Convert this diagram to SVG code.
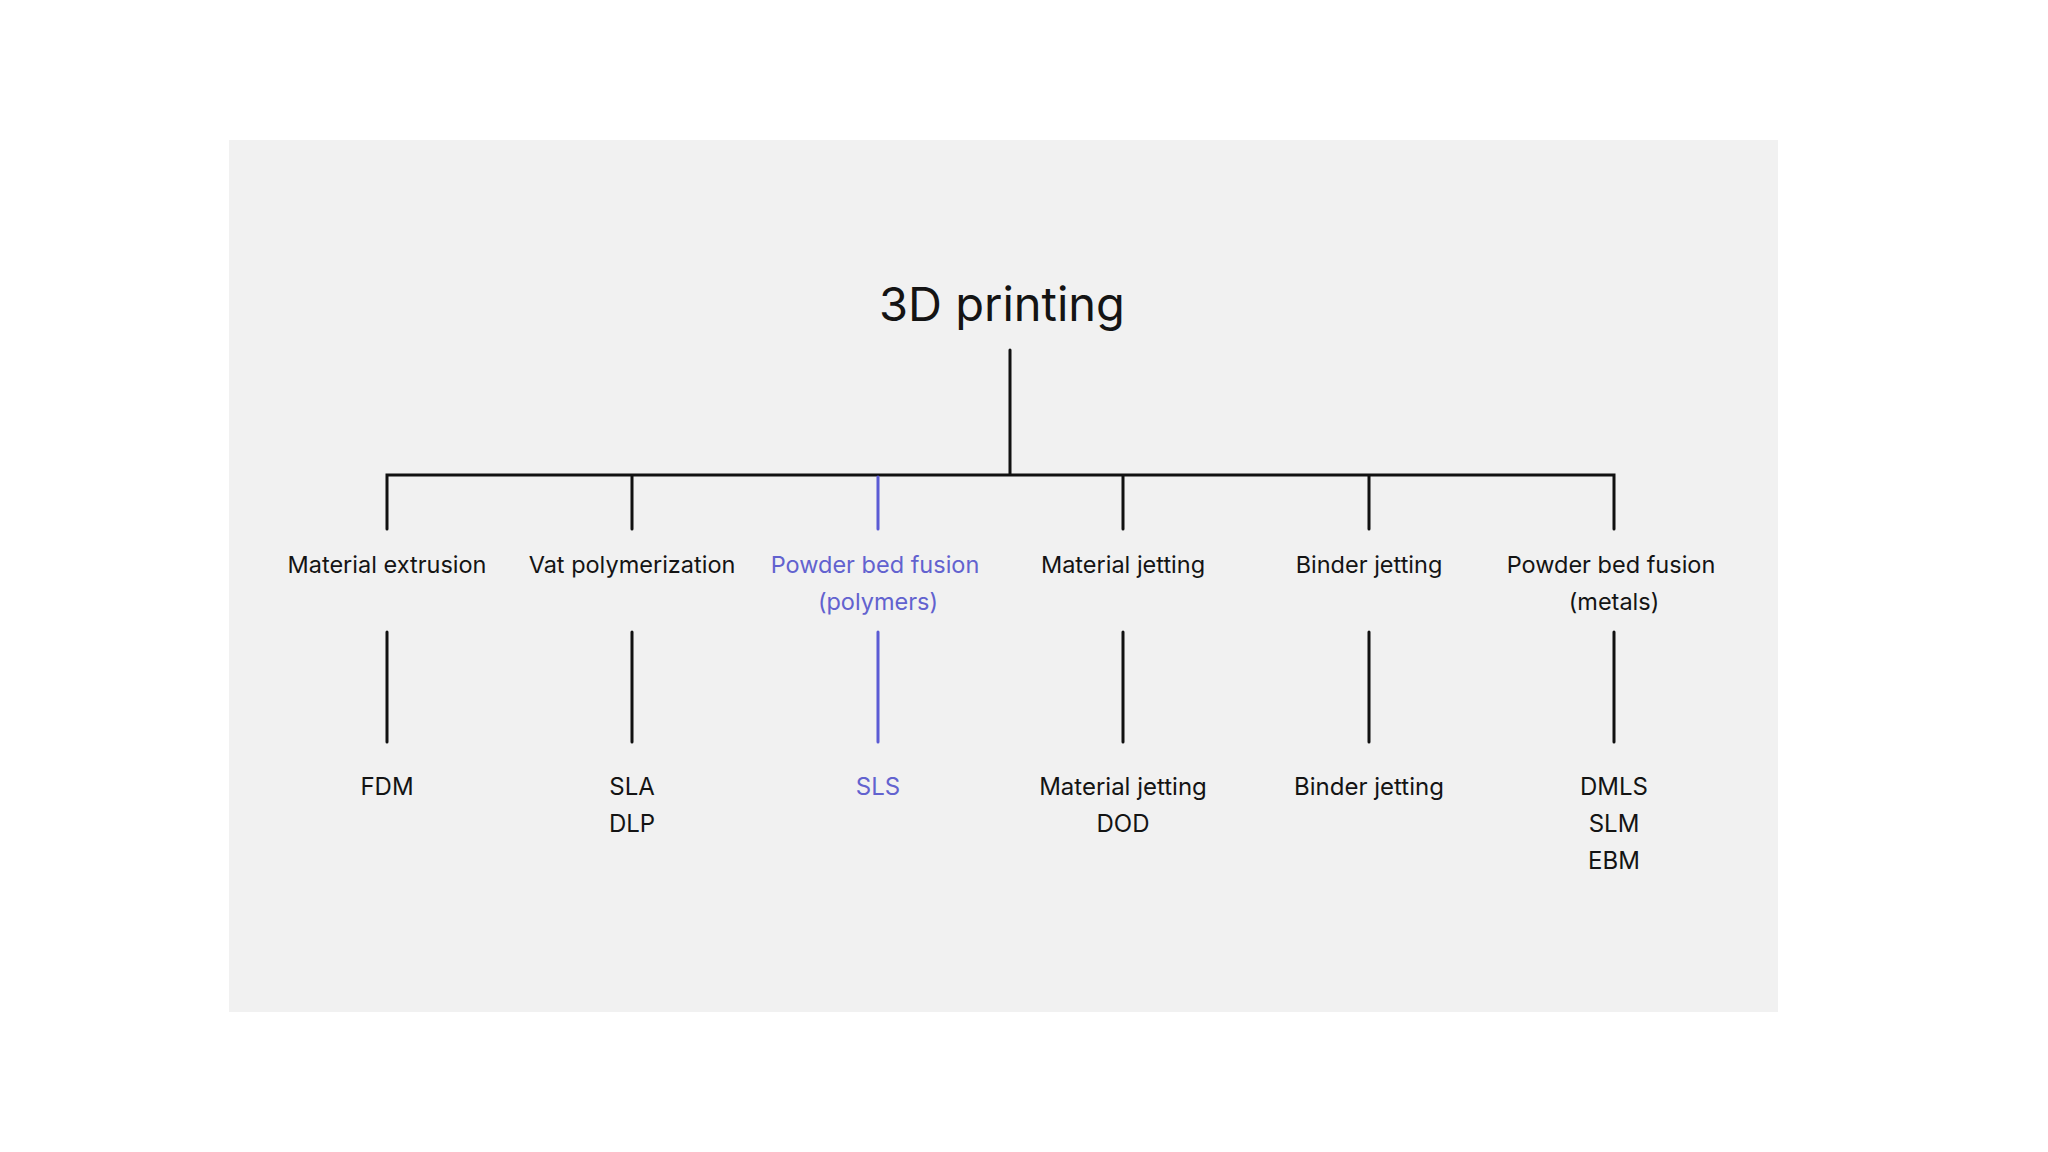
<svg xmlns="http://www.w3.org/2000/svg" width="2048" height="1152" viewBox="0 0 2048 1152">
<style>
.t{font-family:Inter,"Noto Sans","Liberation Sans",sans-serif;font-size:24px;fill:#141414;text-anchor:middle}
.s{font-size:23.5px}
.h{font-size:47px}
.p{fill:#6262cf}
.ln{stroke:#111;stroke-width:3;fill:none;stroke-linecap:round}
.lp{stroke:#5b5bd4}
</style>
<rect x="0" y="0" width="2048" height="1152" fill="#ffffff"/>
<rect x="229" y="140" width="1549" height="872" fill="#f1f1f1"/>
<g id="connectors">
<path class="ln" d="M1010 350V475M387 529V475H1614V529M632 475V529M1123 475V529M1369 475V529"/>
<path class="ln lp" d="M878 477V529"/>
<path class="ln" d="M387 632V742M632 632V742M1123 632V742M1369 632V742M1614 632V742"/>
<path class="ln lp" d="M878 632V742"/>
</g>
<g id="root"><text class="t h" x="1002" y="321">3D printing</text></g>
<g id="n1"><text class="t s" x="387" y="573">Material extrusion</text></g>
<g id="n2"><text class="t s" x="632" y="573">Vat polymerization</text></g>
<g id="n3"><text class="t s p" x="875" y="573">Powder bed fusion</text><text class="t s p" x="878" y="610">(polymers)</text></g>
<g id="n4"><text class="t s" x="1123" y="573">Material jetting</text></g>
<g id="n5"><text class="t s" x="1369" y="573">Binder jetting</text></g>
<g id="n6"><text class="t s" x="1611" y="573">Powder bed fusion</text><text class="t s" x="1614" y="610">(metals)</text></g>
<g id="c1"><text class="t" x="387" y="795">FDM</text></g>
<g id="c2"><text class="t" x="632" y="795">SLA</text><text class="t" x="632" y="832">DLP</text></g>
<g id="c3"><text class="t p" x="878" y="795">SLS</text></g>
<g id="c4"><text class="t" x="1123" y="795">Material jetting</text><text class="t" x="1123" y="832">DOD</text></g>
<g id="c5"><text class="t" x="1369" y="795">Binder jetting</text></g>
<g id="c6"><text class="t" x="1614" y="795">DMLS</text><text class="t" x="1614" y="832">SLM</text><text class="t" x="1614" y="869">EBM</text></g>
</svg>
